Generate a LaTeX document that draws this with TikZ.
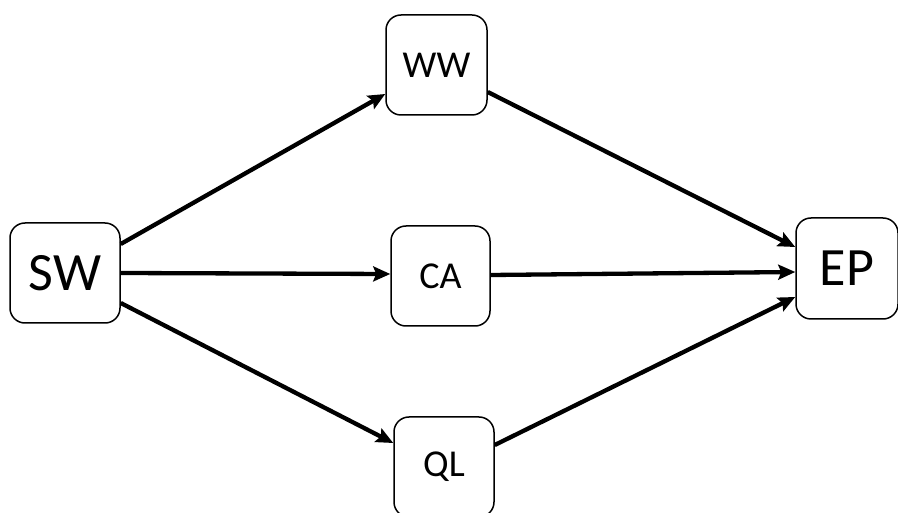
\documentclass[tikz,border=0pt]{standalone}
\usepackage{fontspec}
\setmainfont{Carlito}
\usetikzlibrary{arrows.meta}
\tikzset{
  box/.style={draw=black, line width=1.5pt, rounded corners=15pt, fill=white, inner sep=0pt},
  bigtxt/.style={font=\fontsize{54}{56}\selectfont},
  smalltxt/.style={font=\fontsize{38}{40}\selectfont},
  conn/.style={line width=4.3pt, -{Stealth[length=17pt,width=15pt,inset=3pt]}}
}
\begin{document}
\begin{tikzpicture}[x=1pt,y=1pt]
\useasboundingbox (0,0) rectangle (898,512);
\node[box, bigtxt, minimum width=110pt, minimum height=100pt] (sw) at (65,239) {SW};
\node[box, smalltxt, minimum width=101pt, minimum height=100pt] (ww) at (436.5,447) {WW};
\node[box, smalltxt, minimum width=99pt, minimum height=100pt] (ca) at (440.5,236) {CA};
\node[box, smalltxt, minimum width=100pt, minimum height=100pt] (ql) at (444,45) {QL};
\node[box, bigtxt, minimum width=102pt, minimum height=101pt] (ep) at (847,243.5) {EP};
\draw[conn] ([yshift=29pt]sw.east) -- ([yshift=-29pt]ww.west);
\draw[conn] (sw.east) -- ([yshift=2pt]ca.west);
\draw[conn] ([yshift=-30pt]sw.east) -- ([yshift=24pt]ql.west);
\draw[conn] ([yshift=-27pt]ww.east) -- ([yshift=21.5pt]ep.west);
\draw[conn] ([yshift=1pt]ca.east) -- ([yshift=-3.5pt]ep.west);
\draw[conn] ([yshift=22pt]ql.east) -- ([yshift=-28.5pt]ep.west);
\end{tikzpicture}
\end{document}
